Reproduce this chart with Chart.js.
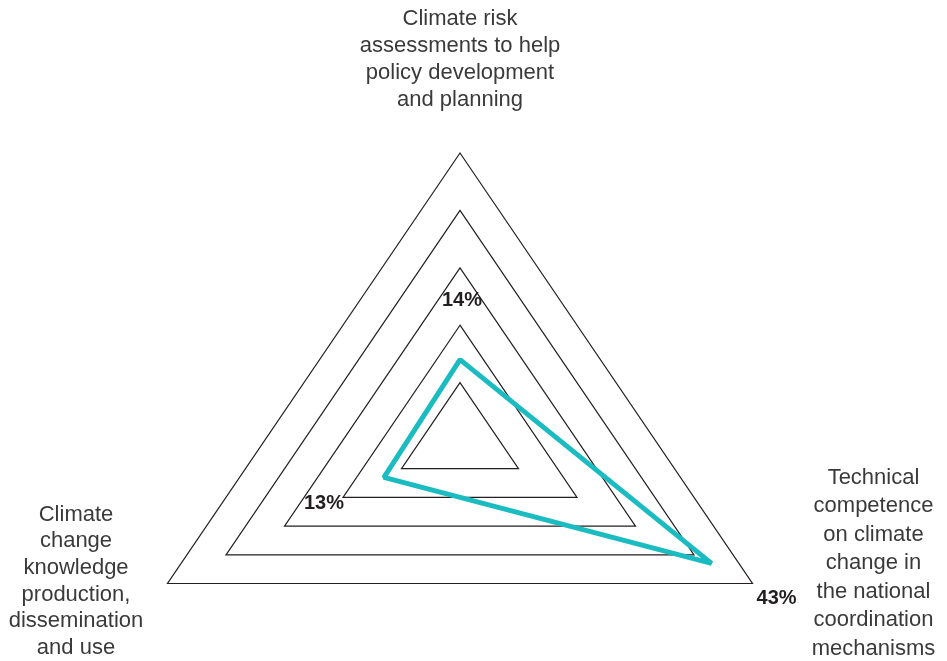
<!DOCTYPE html>
<html>
<head>
<meta charset="utf-8">
<script src="https://cdn.jsdelivr.net/npm/chart.js@4/dist/chart.umd.min.js"></script>
<style>
  html, body { margin: 0; padding: 0; background: #ffffff; }
  #wrap { width: 947px; height: 661px; }
</style>
</head>
<body>
<div id="wrap"><canvas id="chart" width="947" height="661"></canvas></div>
<script>
// ---- data ----
const categories = [
  ['Climate risk', 'assessments to help', 'policy development', 'and planning'],
  ['Technical', 'competence', 'on climate', 'change in', 'the national', 'coordination', 'mechanisms'],
  ['Climate', 'change', 'knowledge', 'production,', 'dissemination', 'and use']
];
const values = [14, 43, 13];
const valueLabels = ['14%', '43%', '13%'];
const scaleMin = 0;
const scaleMax = 50;
const scaleStep = 10;

// ---- layout / style ----
const CENTER = { x: 460, y: 440, r: 287, sx: 1.1768 };
const catFont = '22px "Liberation Sans", Arial, sans-serif';
const catColor = '#3a3a3a';
// per-category label placement relative to the axis end point
const catPlacement = [
  { dx: 0, dy: -128, lh: 27 },
  { dx: 121, dy: -100, lh: 28.5 },
  { dx: -91.5, dy: -63, lh: 26.7 }
];
const valFont = 'bold 20px "Liberation Sans", Arial, sans-serif';
const valColor = '#231f20';
// value label placement relative to the data point
const valPlacement = [
  { dx: 2, dy: -54 },
  { dx: 65, dy: 41 },
  { dx: -60, dy: 32 }
];

const labelPlugin = {
  id: 'radarLabels',
  afterDraw(chart) {
    const ctx = chart.ctx;
    const scale = chart.scales.r;
    ctx.save();
    ctx.font = catFont;
    ctx.fillStyle = catColor;
    ctx.textAlign = 'center';
    ctx.textBaseline = 'alphabetic';
    categories.forEach((lines, i) => {
      const p = scale.getPointPosition(i, scale.drawingArea);
      const pl = catPlacement[i];
      lines.forEach((line, k) => {
        ctx.fillText(line, p.x + pl.dx, p.y + pl.dy + k * pl.lh);
      });
    });
    ctx.font = valFont;
    ctx.fillStyle = valColor;
    const meta = chart.getDatasetMeta(0);
    meta.data.forEach((pt, i) => {
      const pl = valPlacement[i];
      ctx.fillText(valueLabels[i], pt.x + pl.dx, pt.y + pl.dy);
    });
    ctx.restore();
  }
};

new Chart(document.getElementById('chart'), {
  type: 'radar',
  data: {
    labels: categories,
    datasets: [{
      data: values,
      borderColor: '#1bbcc1',
      borderWidth: 5,
      borderJoinStyle: 'bevel',
      backgroundColor: 'rgba(0,0,0,0)',
      fill: false,
      pointRadius: 0,
      pointHoverRadius: 0,
      tension: 0
    }]
  },
  options: {
    responsive: false,
    devicePixelRatio: 1,
    animation: false,
    events: [],
    plugins: {
      legend: { display: false },
      tooltip: { enabled: false }
    },
    scales: {
      r: {
        min: scaleMin,
        max: scaleMax,
        beginAtZero: true,
        angleLines: { display: false },
        grid: { color: '#231f20', lineWidth: 1.2 },
        ticks: { display: false, stepSize: scaleStep },
        pointLabels: { display: false },
        afterFit(scale) {
          scale.xCenter = CENTER.x;
          scale.yCenter = CENTER.y;
          scale.drawingArea = CENTER.r;
          if (!scale._stretched) {
            const base = Object.getPrototypeOf(scale).getPointPosition;
            scale.getPointPosition = function (i, d, a) {
              const p = base.call(this, i, d, a);
              p.x = this.xCenter + (p.x - this.xCenter) * CENTER.sx;
              return p;
            };
            scale._stretched = true;
          }
        }
      }
    }
  },
  plugins: [labelPlugin]
});
</script>
</body>
</html>
